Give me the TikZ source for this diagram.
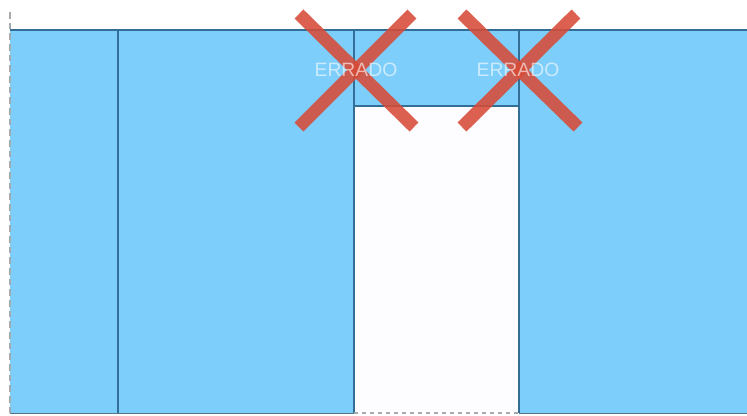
\documentclass[tikz,border=0pt]{standalone}
\usepackage{fontspec}
\setmainfont{Liberation Sans}
\definecolor{skyfill}{RGB}{125,206,250}
\definecolor{edgeline}{RGB}{50,110,150}
\definecolor{crossred}{RGB}{215,75,55}
\definecolor{dashgray}{RGB}{165,170,175}
\definecolor{pocket}{RGB}{253,252,255}
\tikzset{
  divider/.style={draw=edgeline, line width=0.8pt},
  crossbar/.style={draw=crossred, line width=9.5pt, opacity=0.88},
  errlabel/.style={text=white, opacity=0.6, font=\fontsize{14.5}{14.5}\selectfont, inner sep=0pt},
  dashedge/.style={draw=dashgray, dash pattern=on 5pt off 3pt, line width=1.4pt}
}
\begin{document}
\begin{tikzpicture}[x=0.75pt,y=-0.75pt]
\useasboundingbox (0,0) rectangle (747,415);
\fill[white] (0,0) rectangle (747,415);
% blue field
\fill[skyfill] (10,30) rectangle (747,413);
% white pocket
\fill[pocket] (354,106) rectangle (519,413);
% outlines
\draw[divider] (10,30) -- (747,30);
\draw[divider] (118,30) -- (118,413);
\draw[divider] (354,30) -- (354,413);
\draw[divider] (519,30) -- (519,413);
\draw[divider] (354,106) -- (519,106);
\draw[draw=edgeline!50!gray, line width=0.6pt] (10,413) -- (354,413);
\draw[draw=edgeline!50!gray, line width=0.6pt] (519,413) -- (747,413);
\draw[dashedge] (10,12) -- (10,413);
\draw[dashgray, dashed, line width=0.8pt] (354,413) -- (519,413);
% crosses
\draw[crossbar, line cap=butt] (299,14) -- (414,127);
\draw[crossbar, line cap=butt] (412,14) -- (299,127);
\draw[crossbar, line cap=butt] (462,14) -- (578,127);
\draw[crossbar, line cap=butt] (576,14) -- (462,127);
% labels
\node[errlabel] (err1) at (356,70) {ERRADO};
\node[errlabel] (err2) at (518,70) {ERRADO};
\end{tikzpicture}
\end{document}
